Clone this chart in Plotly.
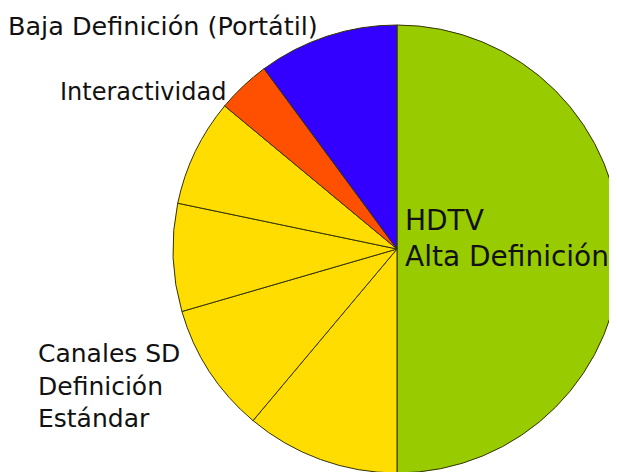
import plotly.graph_objects as go

W, H = 617, 472
PAGE_OFFSET = 8  # default browser body margin

segments = ["HDTV Alta Definición", "Canales SD 1", "Canales SD 2", "Canales SD 3",
            "Canales SD 4", "Interactividad", "Baja Definición (Portátil)"]
values = [180, 40, 33.8, 28, 27.9, 13.9, 36.4]
colors = ["#99cc00", "#ffdd00", "#ffdd00", "#ffdd00", "#ffdd00", "#ff4f00", "#3300ff"]

label_texts = ["Baja Definición (Portátil)", "Interactividad",
               "Canales SD<br>Definición<br>Estándar", "HDTV<br>Alta Definición"]
label_px = [(6, 26), (58, 92), (36, 386), (403, 238)]
label_sizes = [25.5, 24, 25, 28]

# pie placement in window pixels
cx, cy, r = 397, 249, 224


def px_x(p):
    return (p - PAGE_OFFSET) / W


def px_y(p):
    return 1 - (p - PAGE_OFFSET) / H


fig = go.Figure(go.Pie(
    labels=segments,
    values=values,
    sort=False,
    direction="clockwise",
    rotation=0,
    textinfo="none",
    hoverinfo="label",
    marker=dict(colors=colors, line=dict(color="#333300", width=1)),
    domain=dict(x=[px_x(cx - r), min(1, px_x(cx + r))],
                y=[px_y(cy + r), px_y(cy - r)]),
    showlegend=False,
))

for txt, (px, py), fs in zip(label_texts, label_px, label_sizes):
    fig.add_annotation(
        x=px_x(px), y=px_y(py), xref="paper", yref="paper",
        xanchor="left", yanchor="middle", align="left",
        text=txt, showarrow=False,
        font=dict(family="DejaVu Sans, Arial, sans-serif", size=fs, color="#111111"),
    )

fig.update_layout(
    width=W, height=H,
    margin=dict(l=0, r=0, t=0, b=0),
    paper_bgcolor="white", plot_bgcolor="white",
)

fig.write_html("out.html")
